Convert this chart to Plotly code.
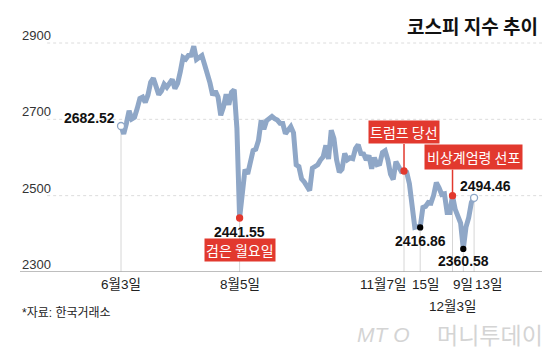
import plotly.graph_objects as go

# KOSPI daily closes, 2024-06-03 .. 2024-12-13 (trading-day index)
kospi = [
    # June
    2682.52, 2662.10, 2689.50, 2722.67, 2701.17, 2705.35, 2728.17, 2754.89, 2758.42,
    2744.10, 2763.92, 2797.33, 2807.63, 2784.06, 2764.73, 2774.39, 2792.05, 2784.28, 2797.82,
    # July
    2804.31, 2780.86, 2794.01, 2824.94, 2862.23, 2857.76, 2867.38, 2867.99, 2891.35, 2857.00,
    2860.92, 2867.11, 2843.82, 2824.35, 2795.46, 2763.51, 2774.12, 2758.71, 2710.65, 2731.90,
    2765.52, 2738.19, 2770.69,
    # August
    2777.68, 2676.19, 2441.55, 2522.15, 2568.41, 2556.73, 2588.43, 2618.30, 2621.50, 2644.50,
    2697.23, 2674.36, 2696.63, 2701.13, 2707.67, 2701.69, 2698.01, 2689.83, 2689.25, 2662.28,
    2674.31,
    # September
    2681.00, 2664.63, 2580.80, 2576.20, 2544.28, 2535.93, 2523.43, 2513.37, 2572.09, 2575.41,
    2580.80, 2593.37, 2602.01, 2631.68, 2596.32, 2671.57, 2649.78, 2593.27,
    # October
    2561.69, 2569.71, 2610.38, 2594.36, 2599.16, 2596.91, 2623.43, 2633.45, 2610.36, 2609.30,
    2593.82, 2604.92, 2570.70, 2599.62, 2581.03, 2583.27, 2613.13, 2617.80, 2593.79, 2556.15,
    # November
    2542.36, 2588.97, 2576.88, 2563.51, 2564.63, 2561.15, 2531.66, 2482.57, 2417.08, 2418.86,
    2416.86, 2469.07, 2471.95, 2482.12, 2480.63, 2501.24, 2534.34, 2520.36, 2503.06, 2504.67,
    2455.91,
    # December
    2455.89, 2500.10, 2464.00, 2441.85, 2428.16, 2360.58, 2417.84, 2442.51, 2482.12, 2494.46,
]
idx = list(range(len(kospi)))

# marked days (index into kospi)
i_start, i_black, i_trump, i_low1, i_martial, i_low2, i_end = 0, 44, 105, 111, 123, 127, 131

y_ticks = [2300, 2500, 2700, 2900]
tick_labels = {0: "6월3일", 44: "8월5일", 105: "11월7일", 111: "15일", 127: "9일", 131: "13일"}
tick_label_row2 = (123, "12월3일")

title = "코스피 지수 추이"
source = "*자료: 한국거래소"
event_labels = {i_black: "검은 월요일", i_trump: "트럼프 당선", i_martial: "비상계엄령 선포"}

LINE = "#8fa7c7"
RED = "#e2392e"
NUM_FONT = "Liberation Sans, Arial, sans-serif"
KR_FONT = "Liberation Sans Narrow, Liberation Sans, Noto Sans CJK KR, sans-serif"

fig = go.Figure()
fig.add_trace(go.Scatter(x=idx, y=kospi, mode="lines",
                         line=dict(color=LINE, width=5, shape="linear"),
                         hoverinfo="skip"))

# markers
def mk(i, color, fill, size=7):
    fig.add_trace(go.Scatter(x=[i], y=[kospi[i]], mode="markers",
                             marker=dict(size=size, color=fill, line=dict(color=color, width=1.3)),
                             hoverinfo="skip"))

mk(i_start, LINE, "white", 7)
mk(i_end, LINE, "white", 7)
mk(i_black, RED, RED, 6)
mk(i_trump, RED, RED, 6)
mk(i_martial, RED, RED, 6)
mk(i_low1, "black", "black", 5)
mk(i_low2, "black", "black", 5)

shapes = []
# vertical guide lines
for i in [i_start, i_black, i_trump, i_low1, i_martial, i_low2, i_end]:
    shapes.append(dict(type="line", xref="x", yref="y", x0=i, x1=i, y0=y_ticks[0], y1=kospi[i],
                       line=dict(color="#d6d6d6", width=1), layer="below"))
# gridlines
for v in y_ticks[1:]:
    shapes.append(dict(type="line", xref="paper", yref="y", x0=0.052, x1=1, y0=v, y1=v,
                       line=dict(color="#dcdcdc", width=1, dash="3px,3px"), layer="below"))
# bottom axis
shapes.append(dict(type="line", xref="paper", yref="y", x0=0, x1=1, y0=y_ticks[0], y1=y_ticks[0],
                   line=dict(color="#a8a8a8", width=1.5)))
# red pointers
for i, h in [(i_trump, 27), (i_martial, 26)]:
    shapes.append(dict(type="line", xref="x", yref="y", ysizemode="pixel", yanchor=kospi[i],
                       x0=i, x1=i, y0=0, y1=h, line=dict(color=RED, width=1.5)))

ann = []
# y tick labels
for v in y_ticks:
    ann.append(dict(x=0, xref="paper", y=v, yref="y", xanchor="left", yanchor="bottom", yshift=-2,
                    text=str(v), showarrow=False, font=dict(family=KR_FONT, size=13, color="#333")))
# x tick labels
for i, t in tick_labels.items():
    xa, xs = "center", 0
    if i == i_trump:
        xa, xs = "right", 4
    elif i == i_low1:
        xs = 5
    elif i == i_end:
        xa, xs = "left", -1
    ann.append(dict(x=i, xref="x", y=0, yref="paper", xanchor=xa, xshift=xs, yanchor="top", yshift=-3,
                    text=t, showarrow=False, font=dict(family=KR_FONT, size=13.5, color="#222")))
ann.append(dict(x=tick_label_row2[0], xref="x", y=0, yref="paper", xanchor="center", yanchor="top",
                yshift=-25, text=tick_label_row2[1], showarrow=False,
                font=dict(family=KR_FONT, size=13.5, color="#222")))

# value labels
def val(i, xa="center", xs=0, ys=0):
    ann.append(dict(x=i, y=kospi[i], xref="x", yref="y", xanchor=xa, yanchor="middle", xshift=xs, yshift=ys,
                    text=f"<b>{kospi[i]:.2f}</b>", showarrow=False,
                    font=dict(family=NUM_FONT, size=14, color="#111")))

val(i_start, "right", -4, 8.5)
val(i_black, "center", 0, -14)
val(i_low1, "center", 0, -14)
val(i_low2, "center", 0, -12)
val(i_end, "left", -16, 12)

# event boxes
ann.append(dict(x=i_black, y=kospi[i_black], xref="x", yref="y", xanchor="center", yanchor="middle",
                yshift=-32, text=event_labels[i_black], showarrow=False, bgcolor=RED, borderpad=1,
                font=dict(family="Noto Sans CJK KR", size=14, color="white")))
ann.append(dict(x=i_trump, y=kospi[i_trump], xref="x", yref="y", xanchor="center", yanchor="bottom",
                yshift=27, text=event_labels[i_trump], showarrow=False, bgcolor=RED, borderpad=1,
                font=dict(family="Noto Sans CJK KR", size=14, color="white")))
ann.append(dict(x=i_martial, y=kospi[i_martial], xref="x", yref="y", xanchor="left", yanchor="bottom",
                xshift=-29, yshift=26, text=event_labels[i_martial], showarrow=False, bgcolor=RED,
                borderpad=2, font=dict(family="Noto Sans CJK KR", size=14, color="white")))

# title, source, watermark
ann.append(dict(x=1, xref="paper", y=(272 - 25) / 252, yref="paper", xanchor="right", yanchor="middle",
                xshift=-2, text=f"<b>{title}</b>", showarrow=False,
                font=dict(family="Noto Sans CJK KR", size=19, color="#111")))
ann.append(dict(x=0, xref="paper", y=(272 - 313) / 252, yref="paper", xanchor="left", yanchor="middle",
                text=source, showarrow=False, font=dict(family=KR_FONT, size=12, color="#222")))
ann.append(dict(x=(355 - 20) / 522, xref="paper", y=(272 - 334) / 252, yref="paper", xanchor="left",
                yanchor="middle", text="<i>MT</i> <i>O</i>", showarrow=False,
                font=dict(family="Liberation Sans", size=21, color="#d4d4d4")))
ann.append(dict(x=(545 - 20) / 522, xref="paper", y=(272 - 334) / 252, yref="paper", xanchor="right",
                yanchor="middle", text="머니투데이", showarrow=False,
                font=dict(family="Noto Sans CJK KR", size=23, color="#d4d4d4")))

fig.update_layout(
    width=560, height=352, margin=dict(l=20, r=18, t=20, b=80),
    paper_bgcolor="white", plot_bgcolor="white", showlegend=False,
    xaxis=dict(range=[-37.48, 156.2], visible=False),
    yaxis=dict(range=[2300, 2960.3], visible=False),
    shapes=shapes, annotations=ann,
)
fig.write_html("out.html")
